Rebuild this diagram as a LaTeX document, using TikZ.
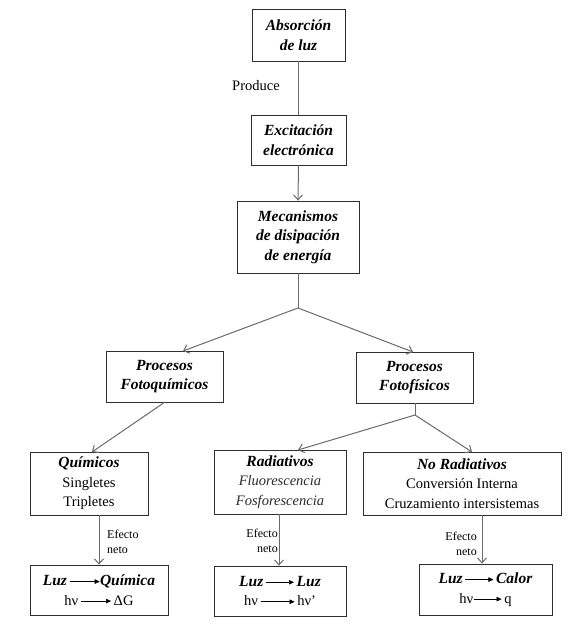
\documentclass[tikz,border=0pt]{standalone}
\usepackage{fontspec}
\setmainfont{Liberation Serif}
\usetikzlibrary{arrows.meta}
\definecolor{linegray}{HTML}{6A6A6A}
\definecolor{boxgray}{HTML}{2E2E2E}
\definecolor{itgray}{HTML}{2A2A2A}
\newcommand{\myarr}[1]{\tikz[baseline=-0.6ex]\draw[black,line width=0.6pt,-{Triangle[length=5pt,width=4.5pt]}] (0,0)--(#1,0);}
\newcommand{\bi}[1]{{\fontsize{15.5}{19.5}\selectfont\textbf{\textit{#1}}}}
\begin{document}
\begin{tikzpicture}[x=1pt,y=-1pt,
  box/.style={draw=boxgray,line width=0.8pt,align=center,inner sep=2pt,
    font=\fontsize{14.5}{19.5}\selectfont},
  conn/.style={draw=linegray,line width=1pt},
  arr/.style={conn,-{Straight Barb[length=5pt,width=9pt]}},
  small/.style={inner sep=0pt,font=\fontsize{12}{15}\selectfont}
]
\useasboundingbox (0,0) rectangle (587,627);

\node[box,minimum width=93pt,minimum height=52pt] (A) at (298.5,35) {\bi{Absorción}\\\bi{de luz}};
\node[box,minimum width=95pt,minimum height=50pt] (B) at (298.5,140) {\bi{Excitación}\\\bi{electrónica}};
\node[box,minimum width=122pt,minimum height=72pt] (C) at (298,237) {\bi{Mecanismos}\\\bi{de disipación}\\\bi{de energía}};
\node[box,minimum width=117pt,minimum height=51pt] (D) at (164.5,376.5) {\bi{Procesos}\\\bi{Fotoquímicos}};
\node[box,minimum width=117pt,minimum height=51pt] (E) at (414.5,377.5) {\bi{Procesos}\\\bi{Fotofísicos}};
\node[box,minimum width=118pt,minimum height=63pt] (F) at (89,483.5) {\bi{Químicos}\\Singletes\\Tripletes};
\node[box,minimum width=132pt,minimum height=64pt] (G) at (280,482) {\bi{Radiativos}\\{\color{itgray}\textit{Fluorescencia}}\\{\color{itgray}\textit{Fosforescencia}}};
\node[box,minimum width=198pt,minimum height=63pt] (H) at (462,483.5) {\bi{No Radiativos}\\Conversión Interna\\Cruzamiento intersistemas};
\node[box,minimum width=138pt,minimum height=50pt] (I) at (99,590) {\bi{Luz}\,\myarr{30pt}\bi{Química}\\hν\,\myarr{30pt}\,ΔG};
\node[box,minimum width=132pt,minimum height=50pt] (J) at (280,591) {\bi{Luz}\,\myarr{28pt}\,\bi{Luz}\\hν\,\myarr{34pt}\,hν’};
\node[box,minimum width=133pt,minimum height=51pt] (K) at (485.5,589.5) {\bi{Luz}\,\myarr{28pt}\,\bi{Calor}\\hν\myarr{28pt}\,q};

\node[small,font=\fontsize{14.5}{16}\selectfont] (prod) at (256,86) {Produce};

% connectors
\draw[conn] (A.south) -- (B.north);
\draw[arr] (B.south) -- (C.north);
\coordinate (j1) at (298,308);
\coordinate (dt) at (183,351);
\coordinate (et) at (413,352);
\draw[conn] (C.south) -- (j1);
\draw[arr] (j1) -- (dt);
\draw[arr] (j1) -- (et);

\coordinate (db) at (165,402);
\coordinate (ft) at (92,452);
\draw[arr] (db) -- (ft);

\coordinate (eb) at (415,403);
\coordinate (j2) at (415,415);
\coordinate (gt) at (298,450);
\coordinate (ht) at (472,452);
\draw[conn] (eb) -- (j2);
\draw[arr] (j2) -- (gt);
\draw[arr] (j2) -- (ht);

\draw[arr] (F.south -| 99,0) -- (I.north -| 99,0);
\draw[arr] (G.south -| 279,0) -- (J.north -| 279,0);
\draw[arr] (H.south -| 482,0) -- (K.north -| 482,0);

\node[small,align=left,anchor=west] (l1) at (107,542) {Efecto\\neto};
\node[small,align=right,anchor=east] (l2) at (278,541) {Efecto\\neto};
\node[small,align=right,anchor=east] (l3) at (477,544) {Efecto\\neto};
\end{tikzpicture}
\end{document}
